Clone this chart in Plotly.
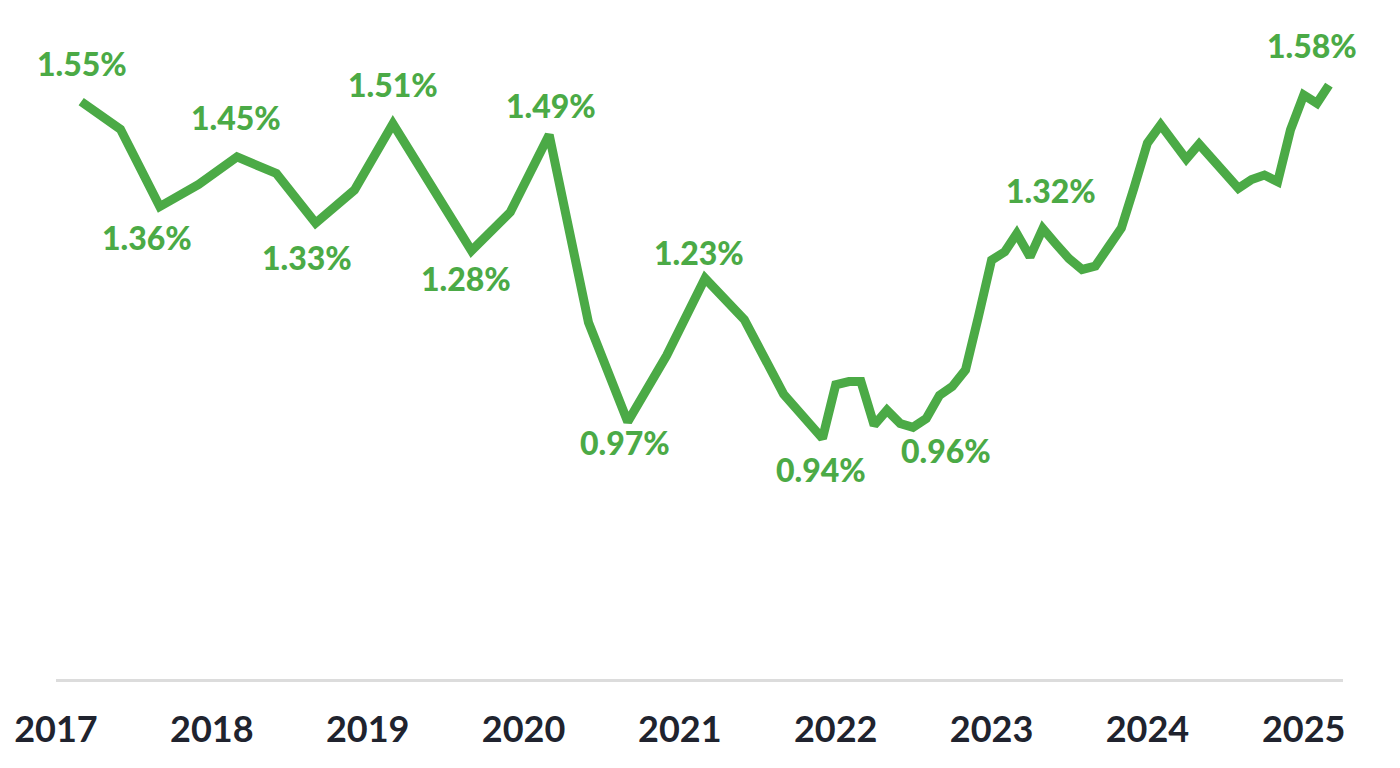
import plotly.graph_objects as go

# Quarterly (2017-2021) then monthly (2022-2025) readings, % values
dates = [
    "2017-03-01", "2017-06-01", "2017-09-01", "2017-12-01",
    "2018-03-01", "2018-06-01", "2018-09-01", "2018-12-01",
    "2019-03-01", "2019-06-01", "2019-09-01", "2019-12-01",
    "2020-03-01", "2020-06-01", "2020-09-01", "2020-12-01",
    "2021-03-01", "2021-06-01", "2021-09-01", "2021-12-01",
    "2022-01-01", "2022-02-01", "2022-03-01", "2022-04-01", "2022-05-01", "2022-06-01",
    "2022-07-01", "2022-08-01", "2022-09-01", "2022-10-01", "2022-11-01", "2022-12-01",
    "2023-01-01", "2023-02-01", "2023-03-01", "2023-04-01", "2023-05-01", "2023-06-01",
    "2023-07-01", "2023-08-01", "2023-09-01", "2023-10-01", "2023-11-01", "2023-12-01",
    "2024-01-01", "2024-02-01", "2024-03-01", "2024-04-01", "2024-05-01", "2024-06-01",
    "2024-07-01", "2024-08-01", "2024-09-01", "2024-10-01", "2024-11-01", "2024-12-01",
    "2025-01-01", "2025-02-01", "2025-03-01",
]
rates = [
    1.55, 1.50, 1.36, 1.40,
    1.45, 1.42, 1.33, 1.39,
    1.51, 1.395, 1.28, 1.35,
    1.49, 1.15, 0.97, 1.09,
    1.23, 1.155, 1.02, 0.94,
    1.037, 1.043, 1.043, 0.964, 0.991, 0.967,
    0.96, 0.976, 1.018, 1.034, 1.064, 1.16,
    1.263, 1.278, 1.311, 1.269, 1.32, 1.292,
    1.266, 1.246, 1.252, 1.286, 1.321, 1.395,
    1.475, 1.508, 1.477, 1.446, 1.473, 1.446,
    1.423, 1.393, 1.409, 1.417, 1.405, 1.499,
    1.562, 1.547, 1.58,
]

# Labelled points: index into the series and the label text
label_idx = [0, 2, 4, 6, 8, 10, 12, 14, 16, 19, 26, 36, 58]
label_text = ["1.55%", "1.36%", "1.45%", "1.33%", "1.51%", "1.28%", "1.49%",
              "0.97%", "1.23%", "0.94%", "0.96%", "1.32%", "1.58%"]
# label offsets (pixels) relative to the point
label_dx = [1, -13, -1, -9, 0, -5, 2, -3, -6, -1, 33, 8, -17]
label_dy = [38, -31, 39, -34, 39, -28, 29, -21, 26, -31, -23, 38, 40]

year_ticks = ["2017", "2018", "2019", "2020", "2021", "2022", "2023", "2024", "2025"]

GREEN = "#4BAA46"
FONT = "Lato"

fig = go.Figure()
fig.add_trace(go.Scatter(
    x=dates, y=rates, mode="lines",
    line=dict(color=GREEN, width=9, shape="linear"),
    hoverinfo="skip",
))

for i, t, dx, dy in zip(label_idx, label_text, label_dx, label_dy):
    fig.add_annotation(
        x=dates[i], y=rates[i], text=t, showarrow=False,
        xshift=dx, yshift=dy, xanchor="center", yanchor="middle",
        font=dict(family=FONT, size=32, color=GREEN, weight=900),
    )

# the page body adds an 8px offset; margins compensate for it
fig.update_layout(
    width=1400, height=768,
    margin=dict(l=48, r=65, t=12, b=97),
    paper_bgcolor="white", plot_bgcolor="white",
    showlegend=False,
    xaxis=dict(
        type="date",
        range=["2017-01-01", "2025-04-03"],
        tickvals=[f"{y}-01-01" for y in year_ticks],
        ticktext=year_ticks,
        showgrid=False, zeroline=False, automargin=False,
        showline=True, linecolor="#dcdcdc", linewidth=3,
        ticks="outside", ticklen=17, tickcolor="rgba(0,0,0,0)",
        tickfont=dict(family=FONT, size=36, color="#20232e", weight=700),
        fixedrange=True,
    ),
    yaxis=dict(
        range=[0.504, 1.698], visible=False, fixedrange=True, automargin=False,
    ),
)

fig.write_html("out.html")
